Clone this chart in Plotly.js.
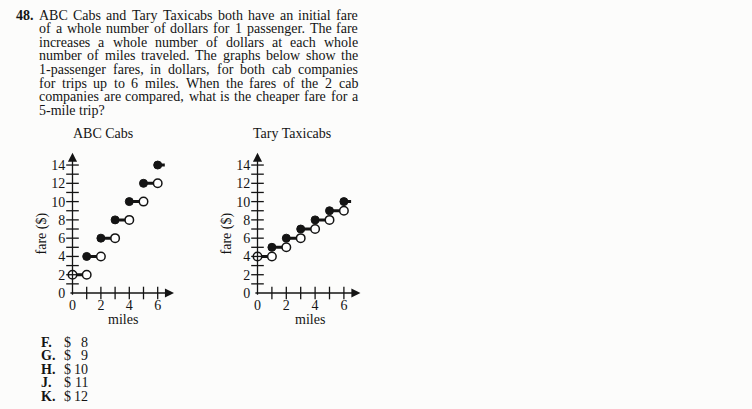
<!DOCTYPE html>
<html><head><meta charset="utf-8">
<script src="https://cdn.plot.ly/plotly-3.0.1.min.js"></script>
<style>html,body{margin:0;padding:0;background:#fcfcfb}</style>
</head>
<body>
<div id="chart" style="width:752px;height:409px"></div>
<script>
// ---- data ----
const miles = [0, 1, 2, 3, 4, 5, 6];
const abcFare = [2, 4, 6, 8, 10, 12, 14];
const taryFare = [4, 5, 6, 7, 8, 9, 10];
const xTickVals = [0, 2, 4, 6];
const yTickVals = [0, 2, 4, 6, 8, 10, 12, 14];
const xMinorTicks = [1, 2, 3, 4, 5, 6];
const yMinorTicks = [1, 2, 3, 4, 5, 6, 7, 8, 9, 10, 11, 12, 13, 14];
const chartTitles = ['ABC Cabs', 'Tary Taxicabs'];
const xLabel = 'miles';
const yLabel = 'fare ($)';
const questionNumber = '48.';
const questionLines = [
  'ABC Cabs and Tary Taxicabs both have an initial fare',
  'of a whole number of dollars for 1 passenger. The fare',
  'increases a whole number of dollars at each whole',
  'number of miles traveled. The graphs below show the',
  '1-passenger fares, in dollars, for both cab companies',
  'for trips up to 6 miles. When the fares of the 2 cab',
  'companies are compared, what is the cheaper fare for a',
  '5-mile trip?'
];
const choiceLetters = ['F.', 'G.', 'H.', 'J.', 'K.'];
const choiceValues = [8, 9, 10, 11, 12];

// ---- style ----
const FONT = 'Liberation Serif, Times New Roman, serif';
const INK = '#141414';
const BG = '#fcfcfb';
const STUB = 0.5;
const W = 752, H = 409;
const LINE_GAP = 13.5;
const BODY = 14;

function stepTraces(fare, xa, ya) {
  const sx = [], sy = [];
  for (let k = 0; k < miles.length - 1; k++) {
    sx.push(miles[k], miles[k + 1], null);
    sy.push(fare[k], fare[k], null);
  }
  const last = miles.length - 1;
  sx.push(miles[last], miles[last] + STUB);
  sy.push(fare[last], fare[last]);
  const openX = [miles[0]].concat(miles.slice(1));
  const openY = [fare[0]].concat(fare.slice(0, -1));
  return [
    {x: sx, y: sy, xaxis: xa, yaxis: ya, mode: 'lines', line: {color: INK, width: 3}, hoverinfo: 'skip'},
    {x: miles.slice(1), y: fare.slice(1), xaxis: xa, yaxis: ya, mode: 'markers',
     marker: {symbol: 'circle', size: 8, color: INK, line: {color: INK, width: 1}}, cliponaxis: false},
    {x: openX, y: openY, xaxis: xa, yaxis: ya, mode: 'markers',
     marker: {symbol: 'circle', size: 8.5, color: '#ffffff', line: {color: INK, width: 1.5}}, cliponaxis: false},
    {x: xMinorTicks, y: xMinorTicks.map(() => 0), xaxis: xa, yaxis: ya, mode: 'markers',
     marker: {symbol: 'line-ns', size: 9, line: {color: INK, width: 1.3}}, cliponaxis: false, hoverinfo: 'skip'},
    {x: yMinorTicks.map(() => 0), y: yMinorTicks, xaxis: xa, yaxis: ya, mode: 'markers',
     marker: {symbol: 'line-ew', size: 9, line: {color: INK, width: 1.3}}, cliponaxis: false, hoverinfo: 'skip'}
  ];
}

const data = [].concat(stepTraces(abcFare, 'x', 'y'), stepTraces(taryFare, 'x2', 'y2'));

function axisX(domain, anchor) {
  return {domain: domain, anchor: anchor, range: [-0.3, 7.3], showgrid: false, zeroline: false,
    showline: false, ticks: '', tickvals: xTickVals, ticktext: xTickVals.map(String),
    ticklabelstandoff: 0, tickfont: {family: FONT, size: 14, color: INK}, fixedrange: true};
}
function axisY(domain, anchor) {
  return {domain: domain, anchor: anchor, range: [-0.2, 15.5], showgrid: false, zeroline: false,
    showline: false, ticks: '', tickvals: yTickVals, ticktext: yTickVals.map(String),
    ticklabelstandoff: 2, tickfont: {family: FONT, size: 14, color: INK}, fixedrange: true};
}

const px = v => v / W;
const py = v => 1 - v / H;
const annotations = [];
function txt(text, x, y, opts) {
  annotations.push(Object.assign({
    text: text, xref: 'paper', yref: 'paper', x: px(x), y: py(y), showarrow: false,
    xanchor: 'left', yanchor: 'middle', borderpad: 0, borderwidth: 0,
    font: {family: FONT, size: 14, color: INK}
  }, opts || {}));
  return annotations.length - 1;
}

function axisArrows(xa, ya) {
  annotations.push({xref: xa, yref: ya, axref: xa, ayref: ya, x: 7.15, y: 0, ax: -0.25, ay: 0,
    text: '', showarrow: true, arrowhead: 2, arrowsize: 1.4, arrowwidth: 1.3, arrowcolor: INK, standoff: 0});
  annotations.push({xref: xa, yref: ya, axref: xa, ayref: ya, x: 0, y: 15.35, ax: 0, ay: -0.35,
    text: '', showarrow: true, arrowhead: 2, arrowsize: 1.4, arrowwidth: 1.3, arrowcolor: INK, standoff: 0});
}
axisArrows('x', 'y');
axisArrows('x2', 'y2');

txt(chartTitles[0], 102.5, 133, {xanchor: 'center'});
txt(chartTitles[1], 291.5, 133, {xanchor: 'center'});
txt(xLabel, 123, 319, {xanchor: 'center'});
txt(xLabel, 310, 319, {xanchor: 'center'});
txt(yLabel, 41.5, 234, {xanchor: 'center', textangle: -90});
txt(yLabel, 226.5, 234, {xanchor: 'center', textangle: -90});

// question text, justified word by word
const bodyFont = {family: FONT, size: BODY, color: INK};
const boldFont = {family: FONT, size: BODY, color: INK, weight: 'bold'};
const cv = document.createElement('canvas').getContext('2d');
cv.font = BODY + 'px "Liberation Serif"';
const TEXT_LEFT = 39, TEXT_RIGHT = 358;
txt(questionNumber, 15.5, 15.5, {font: boldFont});
questionLines.forEach((line, i) => {
  const y = 15.5 + LINE_GAP * i;
  const words = line.split(' ');
  const widths = words.map(w => cv.measureText(w).width);
  const total = widths.reduce((a, b) => a + b, 0);
  const last = i === questionLines.length - 1;
  const gap = last ? cv.measureText(' ').width
                   : Math.max(2, (TEXT_RIGHT - TEXT_LEFT - total) / (words.length - 1));
  let x = TEXT_LEFT;
  words.forEach((w, j) => { txt(w, x, y, {font: bodyFont}); x += widths[j] + gap; });
});

// answer choices
choiceLetters.forEach((c, i) => {
  const y = 342 + LINE_GAP * i;
  txt(c, 41, y, {font: boldFont});
  txt('$', 64, y, {font: bodyFont});
  txt(String(choiceValues[i]), 87.5, y, {xanchor: 'right', font: bodyFont});
});

const layout = {
  width: W, height: H, margin: {l: 0, r: 0, t: 0, b: 0},
  paper_bgcolor: BG, plot_bgcolor: 'rgba(0,0,0,0)', showlegend: false,
  xaxis: axisX([0.09074, 0.23425], 'y'),
  yaxis: axisY([0.27914, 0.6300], 'x'),
  xaxis2: axisX([0.33668, 0.48221], 'y2'),
  yaxis2: axisY([0.27914, 0.6300], 'x2'),
  annotations: annotations,
  font: {family: FONT, color: INK}
};

Plotly.newPlot('chart', data, layout, {staticPlot: true, displayModeBar: false});
</script>
</body></html>
